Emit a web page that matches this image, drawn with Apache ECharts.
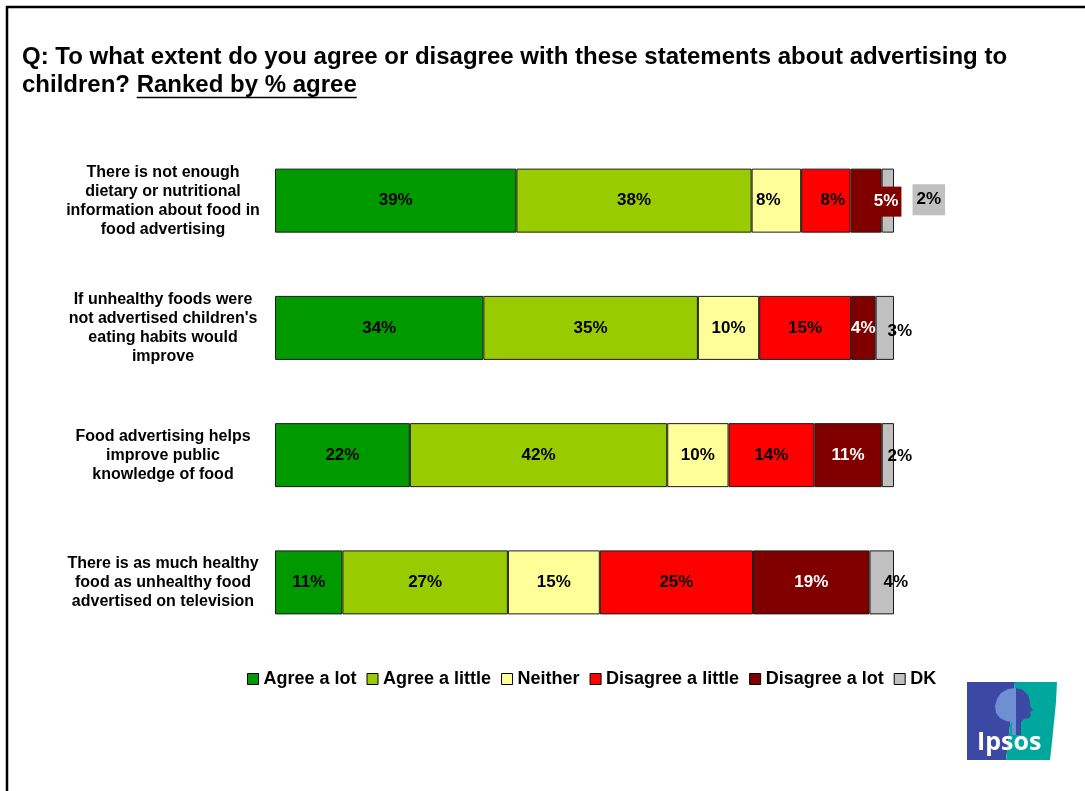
<!DOCTYPE html>
<html>
<head>
<meta charset="utf-8">
<script src="https://cdn.jsdelivr.net/npm/echarts@6/dist/echarts.min.js"></script>
<style>
  html, body { margin: 0; padding: 0; background: #fff; }
  #chart { width: 1085px; height: 791px; }
</style>
</head>
<body>
<div id="chart"></div>
<script>
// Statements, ranked by % agree (top to bottom)
var statements = [
  'There is not enough\ndietary or nutritional\ninformation about food in\nfood advertising',
  'If unhealthy foods were\nnot advertised children\'s\neating habits would\nimprove',
  'Food advertising helps\nimprove public\nknowledge of food',
  'There is as much healthy\nfood as unhealthy food\nadvertised on television'
];

// Response shares (%) per statement
var agreeALot       = [39, 34, 22, 11];
var agreeALittle    = [38, 35, 42, 27];
var neither         = [8, 10, 10, 15];
var disagreeALittle = [8, 15, 14, 25];
var disagreeALot    = [5, 4, 11, 19];
var dontKnow        = [2, 3, 2, 4];

var responseNames = ['Agree a lot', 'Agree a little', 'Neither', 'Disagree a little', 'Disagree a lot', 'DK'];
var responseColors = ['#009900', '#99CC00', '#FFFF99', '#FF0000', '#800000', '#C0C0C0'];

var FONT = 'Liberation Sans, Arial, Helvetica, sans-serif';

var allSeries = [agreeALot, agreeALittle, neither, disagreeALittle, disagreeALot, dontKnow];

// Each bar is a 100% stack: rows are scaled by their own total
var rowTotals = statements.map(function (_, i) {
  return allSeries.reduce(function (s, arr) { return s + arr[i]; }, 0);
});

// Label tweaks for the narrow segments, so the values stay readable
function labelFor(seriesIdx, rowIdx) {
  if (rowIdx === 0) {
    if (seriesIdx === 2) return { offset: [-8, 0] };
    if (seriesIdx === 3) return { offset: [7, 0] };
    if (seriesIdx === 4) return { offset: [20, 1], backgroundColor: '#800000', padding: [7, 3, 6, 3] };
    if (seriesIdx === 5) return { offset: [41, -1], backgroundColor: '#C0C0C0', padding: [7, 4, 7, 4] };
  }
  if (seriesIdx === 5) {
    if (rowIdx === 1) return { offset: [15, 3] };
    if (rowIdx === 2) return { offset: [12, 1] };
    if (rowIdx === 3) return { offset: [14, 0] };
  }
  return null;
}

var series = allSeries.map(function (values, si) {
  return {
    name: responseNames[si],
    type: 'bar',
    stack: 'total',
    barWidth: 64,
    itemStyle: { color: responseColors[si], borderColor: '#1a1a1a', borderWidth: 1 },
    label: {
      show: true,
      position: 'inside',
      color: si === 4 ? '#ffffff' : '#000000',
      fontFamily: FONT,
      fontWeight: 'bold',
      fontSize: 17,
      formatter: function (p) { return p.data.raw + '%'; }
    },
    data: values.map(function (v, ri) {
      var item = { value: v / rowTotals[ri] * 100, raw: v };
      var l = labelFor(si, ri);
      if (l) item.label = l;
      return item;
    })
  };
});

// Title: second part underlined, measured so the rule sits under the words
var titleFont = 'bold 24px ' + FONT;
var measureCtx = document.createElement('canvas').getContext('2d');
measureCtx.font = titleFont;
var lead = 'children? ';
var ranked = 'Ranked by % agree';
var leadW = measureCtx.measureText(lead).width;
var rankedW = measureCtx.measureText(ranked).width;
var titleX = 22;

var chart = echarts.init(document.getElementById('chart'), null, { renderer: 'canvas' });

chart.setOption({
  backgroundColor: '#ffffff',
  animation: false,
  grid: { left: 275, width: 619, top: 137, height: 509, containLabel: false },
  xAxis: { type: 'value', min: 0, max: 100, show: false },
  yAxis: {
    type: 'category',
    inverse: true,
    data: statements,
    axisLine: { show: false },
    axisTick: { show: false },
    splitLine: { show: false },
    axisLabel: {
      align: 'center',
      margin: 112,
      color: '#000',
      fontFamily: FONT,
      fontWeight: 'bold',
      fontSize: 16,
      lineHeight: 19
    }
  },
  legend: {
    data: responseNames,
    left: 242,
    top: 665,
    icon: 'rect',
    itemWidth: 11,
    itemHeight: 11,
    itemGap: 10,
    itemStyle: { borderColor: '#000', borderWidth: 1 },
    textStyle: { color: '#000', fontFamily: FONT, fontWeight: 'bold', fontSize: 18 }
  },
  series: series,
  graphic: [
    // frame
    { type: 'line', shape: { x1: 6, y1: 7, x2: 1085, y2: 7 }, style: { stroke: '#000', lineWidth: 2.5 } },
    { type: 'line', shape: { x1: 7, y1: 6, x2: 7, y2: 791 }, style: { stroke: '#000', lineWidth: 2.5 } },
    // question
    { type: 'text', x: titleX, y: 45,
      style: { text: 'Q: To what extent do you agree or disagree with these statements about advertising to',
               font: titleFont, fill: '#000' } },
    { type: 'text', x: titleX, y: 73, style: { text: lead, font: titleFont, fill: '#000' } },
    { type: 'text', x: titleX + leadW, y: 73, style: { text: ranked, font: titleFont, fill: '#000' } },
    { type: 'line', shape: { x1: titleX + leadW, y1: 97.5, x2: titleX + leadW + rankedW, y2: 97.5 },
      style: { stroke: '#000', lineWidth: 1.5 } },
    // Ipsos logo
    { type: 'group', x: 967, y: 682, children: [
      { type: 'polygon', shape: { points: [[0, 0], [48, 0], [39, 78], [0, 78]] }, style: { fill: '#3B48A4' } },
      { type: 'polygon', shape: { points: [[48, 0], [90, 0], [89, 20], [87, 40], [85, 60], [83, 78], [39, 78]] },
        style: { fill: '#00A79D' } },
      // tree half of the head
      { type: 'polygon', shape: { points: [[49, 6], [41, 7], [34, 11], [30, 17], [28, 24], [29, 31], [33, 36], [39, 39], [45, 40], [45, 53], [49, 53]] },
        style: { fill: '#6F8FD3' } },
      // face half of the head
      { type: 'polygon', shape: { points: [[49, 6], [56, 8], [61, 13], [63, 20], [63, 24], [66, 28], [63, 30], [64, 33], [62, 36], [57, 37], [54, 40], [54, 53], [49, 53]] },
        style: { fill: '#3B48A4' } },
      { type: 'text', x: 10, y: 48,
        style: { text: 'Ipsos', font: 'bold 25px Open Sans, ' + FONT, fill: '#ffffff' } }
    ] }
  ]
});
</script>
</body>
</html>
